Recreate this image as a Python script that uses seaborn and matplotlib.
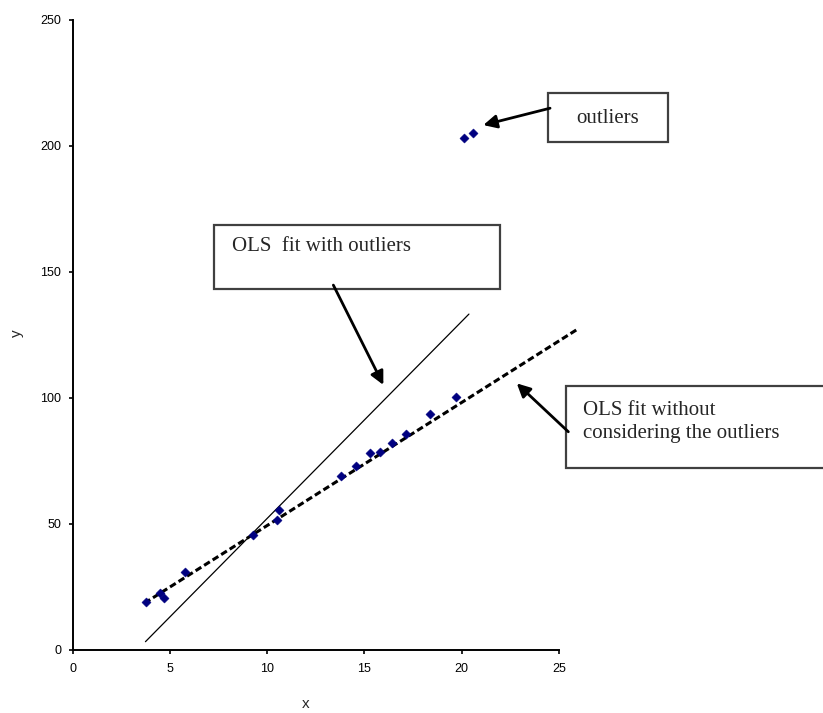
import matplotlib
matplotlib.use("Agg")
import matplotlib.pyplot as plt
from matplotlib.patches import Rectangle
import seaborn as sns
import pandas as pd

# points
x_pts = [3.8, 4.5, 4.7, 5.8, 9.3, 10.5, 10.6, 13.8, 14.55, 15.3, 15.8, 16.4, 17.15, 18.4, 19.7]
y_pts = [19.2, 22.5, 20.6, 31.1, 45.6, 51.6, 55.6, 69.0, 73.0, 78.0, 78.7, 82.3, 85.6, 93.5, 100.3]
outlier_x = [20.15, 20.6]
outlier_y = [203.1, 205.0]

# fitted lines (end points as drawn)
fit_all_x = [3.75, 20.38]
fit_all_y = [3.3, 133.3]
fit_clean_x = [3.7, 25.9]
fit_clean_y = [18.6, 127.0]

x_ticks = [0, 5, 10, 15, 20, 25]
y_ticks = [0, 50, 100, 150, 200, 250]

sns.set_theme(style="ticks")
plt.rcParams["font.family"] = ["Liberation Sans", "DejaVu Sans"]

pts = pd.DataFrame({"x": x_pts + outlier_x, "y": y_pts + outlier_y})

fig = plt.figure(figsize=(8.23, 7.13), dpi=100)
ax = fig.add_axes([72.5 / 823, 63 / 713, 486.3 / 823, 630 / 713])

sns.lineplot(x=fit_all_x, y=fit_all_y, ax=ax, color="black", linewidth=0.9,
             estimator=None, sort=False, clip_on=False)
sns.lineplot(x=fit_clean_x, y=fit_clean_y, ax=ax, color="black", linewidth=2.2,
             estimator=None, sort=False, clip_on=False, dashes=False)
ax.lines[-1].set_dashes([2.2, 1.1])
sns.scatterplot(data=pts, x="x", y="y", ax=ax, marker="D", s=22, color="#000080",
                edgecolor="#000080", linewidth=0.3, zorder=5, clip_on=False)

ax.set_xlim(0, 25)
ax.set_ylim(0, 250)
ax.set_xticks(x_ticks)
ax.set_yticks(y_ticks)
sns.despine(ax=ax)
for s in ["left", "bottom"]:
    ax.spines[s].set_linewidth(1.4)
    ax.spines[s].set_color("black")
ax.tick_params(axis="both", direction="out", length=3, width=1.2, colors="black",
               labelsize=9)
ax.tick_params(axis="x", pad=6)
ax.tick_params(axis="y", pad=5)
ax.set_xlabel("x", fontsize=11)
ax.set_ylabel("y", fontsize=11)
ax.xaxis.set_label_coords((306 - 72.5) / 486.3, -47 / 630)
ax.yaxis.set_label_coords(-49 / 486.3, 317 / 630)

serif = ["Liberation Serif", "DejaVu Serif"]
box_kw = dict(facecolor="white", edgecolor="#404040", linewidth=1.6, clip_on=False, zorder=6)
arrow_kw = dict(arrowstyle="-|>", color="black", lw=2.0, mutation_scale=20,
                shrinkA=0, shrinkB=0)

# outliers
ax.add_patch(Rectangle((24.46, 201.7), 6.17, 19.2, **box_kw))
ax.text(27.53, 211.1, "outliers", family=serif, fontsize=15, ha="center",
        va="center", zorder=7)
ax.annotate("", xy=(21.12, 208.3), xytext=(24.55, 215.0), arrowprops=arrow_kw,
            annotation_clip=False, zorder=7)

# fit with outliers
ax.add_patch(Rectangle((7.275, 143.3), 14.7, 25.4, **box_kw))
ax.text(8.19, 160.0, "OLS  fit with outliers", family=serif, fontsize=15,
        ha="left", va="center", zorder=7)
ax.annotate("", xy=(15.98, 105.2), xytext=(13.41, 144.8), arrowprops=arrow_kw,
            annotation_clip=False, zorder=7)

# fit without outliers
ax.add_patch(Rectangle((25.36, 72.1), 13.6, 32.8, **box_kw))
ax.text(26.25, 90.6, "OLS fit without\nconsidering the outliers", family=serif,
        fontsize=15, ha="left", va="center", linespacing=1.3, zorder=7)
ax.annotate("", xy=(22.84, 105.8), xytext=(25.49, 86.6), arrowprops=arrow_kw,
            annotation_clip=False, zorder=7)

fig.savefig("out.png", dpi=100)
